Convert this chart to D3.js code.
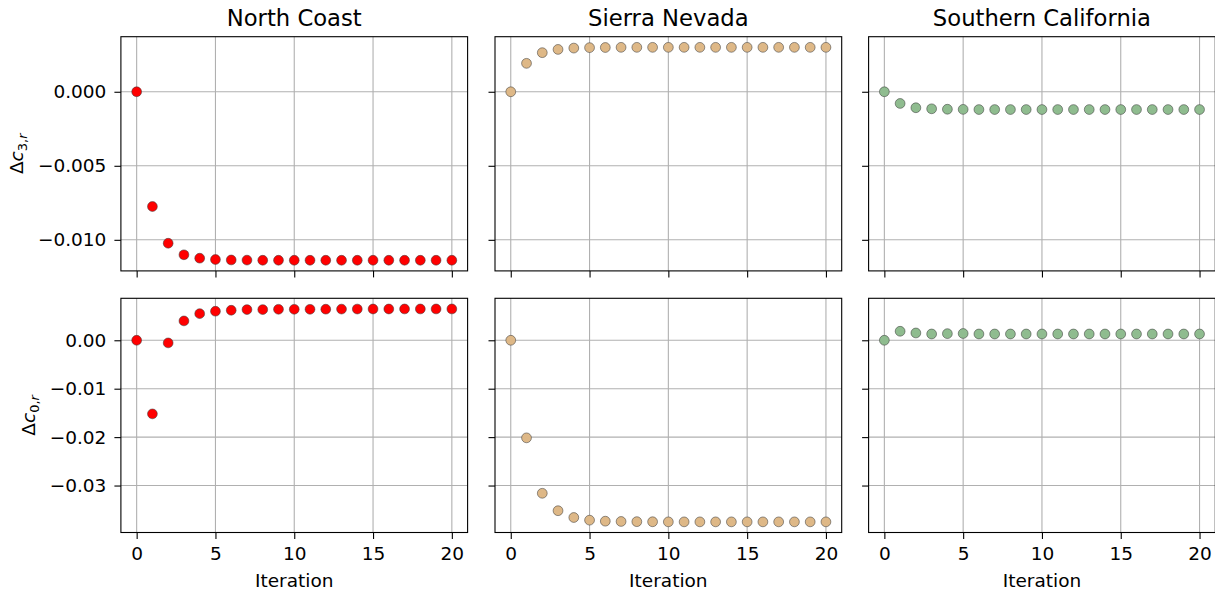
<!DOCTYPE html>
<html><head><meta charset="utf-8">
<script src="https://cdn.jsdelivr.net/npm/d3@7"></script>
<style>body{margin:0;background:#fff}svg{display:block}</style>
</head><body><svg id="c" width="1215" height="592"></svg>
<script>
const iterations = [0,1,2,3,4,5,6,7,8,9,10,11,12,13,14,15,16,17,18,19,20];
const regions = ["North Coast", "Sierra Nevada", "Southern California"];
const colors = ["#ff0000", "#deb887", "#8fbc8f"];

const c3NorthCoast = [0, -0.00775, -0.01023, -0.01101, -0.01124, -0.01133, -0.01136, -0.01137, -0.01138, -0.01138, -0.01138, -0.01138, -0.01138, -0.01138, -0.01138, -0.01138, -0.01138, -0.01138, -0.01138, -0.01138, -0.01138];
const c3SierraNevada = [0, 0.00192, 0.00264, 0.00286, 0.00295, 0.00298, 0.00299, 0.00300, 0.00300, 0.00300, 0.00300, 0.00300, 0.00300, 0.00300, 0.00300, 0.00300, 0.00300, 0.00300, 0.00300, 0.00300, 0.00300];
const c3SouthernCal = [0, -0.00079, -0.00108, -0.00115, -0.00118, -0.00119, -0.00120, -0.00120, -0.00120, -0.00120, -0.00120, -0.00120, -0.00120, -0.00120, -0.00120, -0.00120, -0.00120, -0.00120, -0.00120, -0.00120, -0.00120];

const c0NorthCoast = [0, -0.0152, -0.00054, 0.0040, 0.0055, 0.0060, 0.0062, 0.00634, 0.00634, 0.0064, 0.0064, 0.0064, 0.00642, 0.00644, 0.00645, 0.00646, 0.00646, 0.00647, 0.00647, 0.00647, 0.00647];
const c0SierraNevada = [0, -0.02015, -0.0316, -0.0352, -0.0366, -0.03715, -0.03736, -0.03742, -0.03746, -0.03748, -0.0375, -0.0375, -0.0375, -0.0375, -0.0375, -0.0375, -0.0375, -0.0375, -0.0375, -0.0375, -0.0375];
const c0SouthernCal = [0, 0.00186, 0.00151, 0.0013, 0.00137, 0.0014, 0.0013, 0.0013, 0.0013, 0.0013, 0.0013, 0.0013, 0.0013, 0.0013, 0.0013, 0.0013, 0.0013, 0.0013, 0.0013, 0.0013, 0.0013];

const xTicks = [0, 5, 10, 15, 20];
const yTicksTop = [-0.010, -0.005, 0.000];
const yTicksBottom = [-0.03, -0.02, -0.01, 0.00];

const rows = [
  {series: [c3NorthCoast, c3SierraNevada, c3SouthernCal], ticks: yTicksTop, fmt: d3.format(".3f"), sub: "3"},
  {series: [c0NorthCoast, c0SierraNevada, c0SouthernCal], ticks: yTicksBottom, fmt: d3.format(".2f"), sub: "0"}
];

const FONT = "DejaVu Sans";
const lefts = [120.9, 495.0, 868.6];
const tops = [36.7, 298.3];
const W = 346.7, H = 234.2;
const svg = d3.select("#c");
svg.append("rect").attr("width",1215).attr("height",592).attr("fill","#fff");

const xExt = d3.extent(iterations);
const xPad = (xExt[1]-xExt[0])*0.05;

rows.forEach((row, r) => {
  const all = row.series.flat();
  const ext = d3.extent(all);
  const pad = (ext[1]-ext[0])*0.05;
  const yDomain = [ext[0]-pad, ext[1]+pad];
  let ylabelX = null;
  row.series.forEach((vals, c) => {
    const L = lefts[c], T = tops[r];
    const x = d3.scaleLinear().domain([xExt[0]-xPad, xExt[1]+xPad]).range([L, L+W]);
    const y = d3.scaleLinear().domain(yDomain).range([T+H, T]);
    const g = svg.append("g");
    // grid
    g.selectAll(".gx").data(xTicks).join("line")
      .attr("x1", d=>x(d)).attr("x2", d=>x(d)).attr("y1", T).attr("y2", T+H)
      .attr("stroke", "#b0b0b0").attr("stroke-width", 1.1);
    g.selectAll(".gy").data(row.ticks).join("line")
      .attr("class","gy")
      .attr("y1", d=>y(d)).attr("y2", d=>y(d)).attr("x1", L).attr("x2", L+W)
      .attr("stroke", "#b0b0b0").attr("stroke-width", 1.1);
    // points
    g.selectAll("circle").data(iterations).join("circle")
      .attr("cx", (d)=>x(d)).attr("cy", (d,i)=>y(vals[i])).attr("r", 4.9)
      .attr("fill", colors[c]).attr("stroke", "#3c3c3c").attr("stroke-opacity", 0.6).attr("stroke-width", 0.9);
    // frame
    g.append("rect").attr("x", L).attr("y", T).attr("width", W).attr("height", H)
      .attr("fill", "none").attr("stroke", "#000").attr("stroke-width", 1.1);
    // x axis
    const xa = d3.axisBottom(x).tickValues(xTicks).tickSize(6.5).tickPadding(7.5).tickSizeOuter(0);
    if (r === 0) xa.tickFormat(() => "");
    const gx = g.append("g").attr("transform", `translate(0,${T+H})`).call(xa);
    gx.select(".domain").remove();
    gx.selectAll("line").attr("stroke","#000").attr("stroke-width",1.1);
    gx.selectAll("text").attr("font-family", FONT).attr("font-size", 18.5).attr("fill","#000");
    // y axis
    const ya = d3.axisLeft(y).tickValues(row.ticks).tickSize(6.5).tickPadding(8).tickSizeOuter(0).tickFormat(row.fmt);
    if (c !== 0) ya.tickFormat(() => "");
    const gy = g.append("g").attr("transform", `translate(${L},0)`).call(ya);
    gy.select(".domain").remove();
    gy.selectAll("line").attr("stroke","#000").attr("stroke-width",1.1);
    gy.selectAll("text").attr("font-family", FONT).attr("font-size", 18.5).attr("fill","#000");
    if (c === 0) {
      ylabelX = L + gy.node().getBBox().x;
    }
    // titles
    if (r === 0) {
      g.append("text").attr("x", L + W/2).attr("y", 26).attr("text-anchor","middle")
        .attr("font-family", FONT).attr("font-size", 22.7).attr("fill","#000").text(regions[c]);
    }
    if (r === 1) {
      g.append("text").attr("x", L + W/2).attr("y", 586.5).attr("text-anchor","middle")
        .attr("font-family", FONT).attr("font-size", 18.5).attr("fill","#000").text("Iteration");
    }
  });
  // y label (math text)
  const cy = tops[r] + H/2;
  const bx = ylabelX - 15;
  const t = svg.append("text").attr("transform", `translate(${bx},${cy}) rotate(-90)`)
    .attr("text-anchor","middle").attr("font-family", FONT).attr("font-size", 18.5).attr("fill","#000");
  t.append("tspan").text("Δ");
  t.append("tspan").attr("font-style","italic").text("c");
  t.append("tspan").attr("font-size", 13).attr("dy", 4).text(row.sub + ",");
  t.append("tspan").attr("font-size", 13).attr("font-style","italic").text("r");
});
</script>
</body></html>
